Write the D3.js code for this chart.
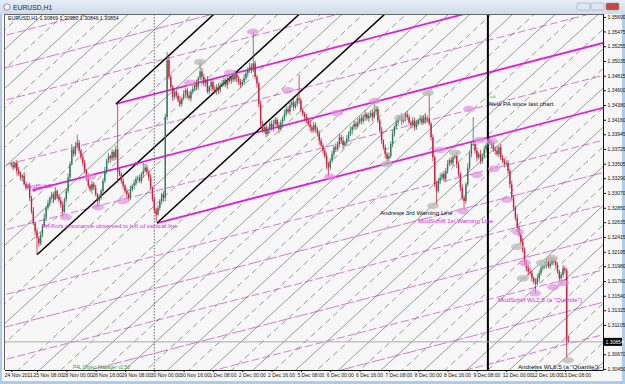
<!DOCTYPE html>
<html>
<head>
<meta charset="utf-8">
<script src="https://cdn.jsdelivr.net/npm/d3@7"></script>
<style>
  body { margin: 0; background: #fff; }
  svg { display: block; }
  text { font-family: "Liberation Sans", Arial, sans-serif; }
</style>
</head>
<body>
<div id="chart"></div>
<script>
// EURUSD H1 closes, pips above 1.3000, bar 0 = 24 Nov 18:00
const closePips = [
  349,345,352,340,336,330,333,320,315,318,
  300,280,262,250,240,232,245,258,270,285,
  292,300,305,298,310,302,296,290,280,298,
  310,330,350,372,365,378,382,370,360,352,
  340,330,318,312,320,315,305,295,300,310,
  325,340,355,362,358,368,360,372,340,335,
  325,318,310,305,300,312,318,322,328,330,
  325,335,340,345,338,330,315,298,282,275,
  285,295,305,300,420,505,480,465,450,458,
  452,445,440,448,455,460,452,448,458,462,
  470,465,478,488,480,470,475,458,465,472,
  462,458,465,460,468,470,475,468,478,474,
  480,476,484,478,472,468,472,478,485,490,
  495,490,500,480,470,440,410,400,405,395,
  402,410,404,410,416,408,402,412,418,425,
  432,428,438,442,435,440,448,445,430,425,
  420,415,410,405,400,408,402,395,385,378,
  370,362,350,345,355,365,375,372,380,390,
  385,378,382,388,395,400,405,410,406,412,
  418,414,420,424,418,422,426,420,428,432,
  415,400,385,375,365,358,362,380,395,405,
  412,418,420,414,418,424,420,412,408,415,
  405,410,415,418,412,420,416,418,410,390,
  360,320,310,325,330,335,328,340,350,356,
  352,360,362,350,335,315,300,295,320,345,
  365,380,380,370,360,365,355,362,372,378,
  385,382,378,372,370,365,375,360,355,350,
  352,340,320,300,285,270,255,245,235,222,
  205,195,190,188,180,175,172,180,188,195,
  198,200,205,198,202,208,205,200,190,180,
  185,195,192,86.9,85.4
]
const wickHi = [
  3,5,2,4,6,3,2,5,4,3, 4,3,6,2,5,3,4,2,6,3, 5,2,4,3,6,2,3,5,4,2,
  3,6,4,8,3,5,12,4,3,5, 4,3,6,2,5,3,4,2,5,3, 4,6,3,5,2,4,3,6,69,4,
  3,5,2,4,3,6,2,5,4,3, 5,3,12,6,4,3,5,2,4,3, 4,3,2,5,5,12,6,4,3,5,
  3,4,6,2,5,3,4,6,3,5, 4,6,3,15,5,4,3,6,2,4, 3,5,4,6,3,5,4,3,6,4,
  5,3,6,4,3,5,4,6,5,4, 6,5,47,4,3,2,5,4,3,5, 4,3,5,6,4,3,5,4,3,6,
  5,4,6,3,5,4,6,35,3,4, 3,5,4,6,3,5,4,3,5,4, 3,4,5,3,4,5,3,6,4,5,
  4,6,3,5,4,6,3,5,4,6, 3,5,4,6,3,5,4,6,15,5, 4,3,5,2,4,3,5,4,6,3,
  5,4,3,6,4,3,5,4,3,5, 4,6,3,5,4,3,5,4,38,3, 4,3,5,4,6,3,5,4,6,3,
  5,4,3,6,4,3,5,4,3,6, 5,4,40,4,5,3,6,4,5,3, 4,6,3,5,4,6,3,5,4,3,
  5,4,3,5,4,3,6,4,3,5, 4,3,5,6,4,3,5,6,4,5, 3,5,4,6,10,4,3,5,4,3,
  4,5,3,3,8.1
]
const wickLo = [
  3,4,2,5,3,4,6,2,4,3, 5,4,3,6,25,5,3,4,2,5, 3,5,4,6,2,4,3,5,9,3,
  4,3,5,2,4,3,5,4,3,5, 3,5,4,3,6,4,3,9,4,3, 4,3,5,4,6,3,5,4,18,3,
  4,5,3,6,5,4,3,5,4,3, 3,4,5,3,4,5,3,4,5,11, 3,4,5,6,6,5,4,3,6,4,
  4,3,5,4,3,6,4,3,5,4, 3,5,4,3,6,4,5,3,4,6, 4,3,5,6,4,3,5,4,6,3,
  5,4,3,6,4,5,3,4,3,5, 4,5,3,4,6,5,4,3,4,5, 3,6,4,5,3,4,6,3,5,4,
  4,3,5,4,6,3,4,5,3,4, 5,4,3,6,4,3,5,4,6,3, 4,3,8,14,4,3,5,4,3,5,
  4,6,3,5,4,3,6,4,5,3, 3,5,4,6,3,5,4,6,3,5, 4,3,5,4,6,9,4,3,5,4,
  3,5,4,6,3,5,4,3,5,4, 5,4,3,5,4,3,6,4,3,5, 6,4,21,3,5,4,3,5,4,3,
  4,5,3,6,4,5,3,13,4,3, 4,5,3,4,6,3,5,4,3,5, 4,3,5,4,6,3,5,4,3,5,
  4,5,6,3,5,4,6,3,5,4, 5,4,6,3,5,4,14,3,5,4, 3,4,5,3,4,3,5,4,3,5,
  4,3,5,26,0.8
]
const firstOpen = 350

const firstLabel = '24 Nov 2011'
const timeLabels = ['25 Nov 08:00', '28 Nov 00:00', '28 Nov 16:00', '29 Nov 08:00', '30 Nov 00:00',
  '30 Nov 16:00', '1 Dec 08:00', '2 Dec 00:00', '2 Dec 16:00', '5 Dec 08:00', '6 Dec 00:00',
  '6 Dec 16:00', '7 Dec 08:00', '8 Dec 00:00', '8 Dec 16:00', '9 Dec 08:00', '12 Dec 00:00',
  '12 Dec 16:00', '13 Dec 08:00']
const priceTicks = [1.35690, 1.35475, 1.35255, 1.35035, 1.34815, 1.34600, 1.34380, 1.34160,
  1.33945, 1.33725, 1.33505, 1.33290, 1.33070, 1.32850, 1.32635, 1.32415, 1.32195, 1.31980,
  1.31760, 1.31540, 1.31325, 1.31105, 1.30670, 1.30450]
const lastPrice = 1.30854
const headerText = 'EURUSD,H1  1.30869 1.30950 1.30846 1.30854'

// pitchfork pivots, [bar, price]
const andrewsPivots = [[14, 1.32150], [57.1, 1.34395], [79.5, 1.32623]]
const schiffPivots = [[12.4, 1.33115], [57.1, 1.34395], [79.5, 1.32623]]
const dottedBar = 78
const solidBar = 260

// highlight ellipses, [bar, pips]
const pinkMarks = [[97.5,471],[131.8,547],[119.3,486],[150.9,460],[177.7,426],[198.4,444],
  [249.7,432],[29.8,271],[47.3,286],[60.9,295],[42.9,331],[173.8,331],[233.9,371],
  [255.7,386],[262.2,384],[263.3,343],[254,334],[246.4,280],[270.4,297],[276.4,249],
  [280.2,203],[285.7,158],[295.5,167],[301,173]]
const grayMarks = [[102.9,502],[212,419],[227.3,456],[204.9,350],[242,367],[230,288],
  [275.9,227],[289.5,203],[279.1,180],[295,210],[303.7,58]]

const notes = [
  { text: 'ModSchiff', bar: 7.5, price: 1.33144, kind: 'm' },
  { text: 'Pit-Fork resonance observed to left of vertical line', bar: 16.7, price: 1.32549, kind: 'm' },
  { text: 'Andrews 3rd Warning Line', bar: 201.1, price: 1.32743, kind: 'k' },
  { text: 'ModSchiff 1st Warning Line', bar: 221.9, price: 1.32623, kind: 'm' },
  { text: 'New PA since last chart', bar: 260.6, price: 1.34365, kind: 'k' },
  { text: 'ModSchiff WL2.5 (a "Quartile")', bar: 265.5, price: 1.31447, kind: 'm' },
  { text: 'Andrews WL6.5 (a "Quartile")', bar: 276.4, price: 1.30450, kind: 'k' }
]

const W = 625, H = 384
const plot = { left: 5, right: 603, top: 14, bottom: 370 }
const x = d3.scaleLinear().domain([-3.45, 322.8]).range([plot.left, plot.right])
const y = d3.scaleLinear().domain([1.3045, 1.3569]).range([369, 17])

const svg = d3.select('#chart').append('svg').attr('width', W).attr('height', H)
const defs = svg.append('defs')
defs.append('clipPath').attr('id', 'plotclip').append('rect')
  .attr('x', plot.left).attr('y', plot.top)
  .attr('width', plot.right - plot.left).attr('height', plot.bottom - plot.top)
const g1 = defs.append('linearGradient').attr('id', 'tbar').attr('x1', 0).attr('y1', 0).attr('x2', 0).attr('y2', 1)
g1.append('stop').attr('offset', '0%').attr('stop-color', '#e6eef7')
g1.append('stop').attr('offset', '100%').attr('stop-color', '#cfdcec')

// window frame
svg.append('rect').attr('width', W).attr('height', H).attr('fill', '#aecbea')
svg.append('rect').attr('width', W).attr('height', 14).attr('fill', 'url(#tbar)')
svg.append('rect').attr('x', 2).attr('y', 14).attr('width', 620).attr('height', 367).attr('fill', '#f7f7f7')
svg.append('circle').attr('cx', 7).attr('cy', 7).attr('r', 3.2).attr('fill', '#f4f4f4').attr('stroke', '#6a7f99').attr('stroke-width', 0.8)
svg.append('text').attr('x', 13).attr('y', 9.5).attr('font-size', 6.8).attr('fill', '#1d2a3a').text('EURUSD,H1')
const btns = [[577, '#dfe6ef'], [591, '#dfe6ef'], [606, '#c9463d']]
btns.forEach(([bx, col]) => {
  svg.append('rect').attr('x', bx).attr('y', 3).attr('width', 13).attr('height', 7).attr('rx', 1)
    .attr('fill', col).attr('stroke', '#8a9bb0').attr('stroke-width', 0.5)
})

const clip = svg.append('g').attr('clip-path', 'url(#plotclip)')

// pitchfork line sets
function forkLines(piv, step, kMax) {
  const [p1, p2, p3] = piv
  const mid = [(p2[0] + p3[0]) / 2, (p2[1] + p3[1]) / 2]
  const slope = (mid[1] - p1[1]) / (mid[0] - p1[0])
  const unit = p2[1] - (p1[1] + slope * (p2[0] - p1[0]))
  const edge = 1 / step
  const out = []
  for (let k = -kMax; k <= kMax; k++) {
    let start = x.domain()[0] - 400
    if (k === 0) start = p1[0]
    if (k === edge) start = p2[0]
    if (k === -edge) start = p3[0]
    const end = x.domain()[1] + 400
    const at = b => p1[1] + slope * (b - p1[0]) + k * step * unit
    out.push({ k, thick: k === 0 || Math.abs(k) === edge, pts: [[start, at(start)], [end, at(end)]] })
  }
  return out
}
const line = d3.line().x(d => x(d[0])).y(d => y(d[1]))

const schiff = forkLines(schiffPivots, 0.5, 24)
clip.append('g').selectAll('path').data(schiff.filter(d => !d.thick)).join('path')
  .attr('d', d => line(d.pts)).attr('fill', 'none')
  .attr('stroke', '#d46ad4').attr('stroke-width', 0.9)
  .attr('stroke-dasharray', d => d.k % 2 ? '8,3' : '14,2')

const andrews = forkLines(andrewsPivots, 0.25, 60)
clip.append('g').selectAll('path').data(andrews.filter(d => !d.thick)).join('path')
  .attr('d', d => line(d.pts)).attr('fill', 'none')
  .attr('stroke', '#4a4a4a').attr('stroke-width', 0.55)
  .attr('stroke-dasharray', d => d.k % 2 ? '6,4' : null)

clip.append('g').selectAll('path').data(schiff.filter(d => d.thick)).join('path')
  .attr('d', d => line(d.pts)).attr('fill', 'none')
  .attr('stroke', '#e01ee0').attr('stroke-width', 1.8)
clip.append('g').selectAll('path').data(andrews.filter(d => d.thick)).join('path')
  .attr('d', d => line(d.pts)).attr('fill', 'none')
  .attr('stroke', '#000').attr('stroke-width', 1.5)

// vertical markers
clip.append('line').attr('x1', x(dottedBar)).attr('x2', x(dottedBar))
  .attr('y1', plot.top).attr('y2', plot.bottom)
  .attr('stroke', '#444').attr('stroke-width', 0.8).attr('stroke-dasharray', '1.5,1.5')
clip.append('line').attr('x1', x(solidBar)).attr('x2', x(solidBar))
  .attr('y1', plot.top).attr('y2', plot.bottom)
  .attr('stroke', '#000').attr('stroke-width', 2)

// last price line
clip.append('line').attr('x1', plot.left).attr('x2', plot.right)
  .attr('y1', y(lastPrice)).attr('y2', y(lastPrice))
  .attr('stroke', '#a8a8a8').attr('stroke-width', 1)

// candles
const bars = closePips.map((c, i) => {
  const o = i ? closePips[i - 1] : firstOpen
  return {
    i, up: c >= o,
    o: 1.3 + o / 1e4, c: 1.3 + c / 1e4,
    h: 1.3 + (Math.max(o, c) + wickHi[i]) / 1e4,
    l: 1.3 + (Math.min(o, c) - wickLo[i]) / 1e4
  }
})
const bull = '#2f7d5c', bear = '#cf1f3f'
const cg = clip.append('g')
cg.selectAll('line').data(bars).join('line')
  .attr('x1', d => x(d.i)).attr('x2', d => x(d.i))
  .attr('y1', d => y(d.h)).attr('y2', d => y(d.l))
  .attr('stroke', d => d.up ? bull : bear).attr('stroke-width', 0.8)
cg.selectAll('rect').data(bars).join('rect')
  .attr('x', d => x(d.i) - 0.7).attr('width', 1.4)
  .attr('y', d => y(Math.max(d.o, d.c)))
  .attr('height', d => Math.max(0.8, Math.abs(y(d.o) - y(d.c))))
  .attr('fill', d => d.up ? bull : bear)

// highlight ellipses
clip.append('g').selectAll('ellipse').data(grayMarks).join('ellipse')
  .attr('cx', d => x(d[0])).attr('cy', d => y(1.3 + d[1] / 1e4))
  .attr('rx', 6).attr('ry', 3.3).attr('fill', '#b8b8b8').attr('fill-opacity', 0.75)
clip.append('g').selectAll('ellipse').data(pinkMarks).join('ellipse')
  .attr('cx', d => x(d[0])).attr('cy', d => y(1.3 + d[1] / 1e4))
  .attr('rx', 6).attr('ry', 3.3).attr('fill', '#e08ae0').attr('fill-opacity', 0.65)

// pitchfork anchor markers
const mid = [(schiffPivots[1][0] + schiffPivots[2][0]) / 2, (schiffPivots[1][1] + schiffPivots[2][1]) / 2]
clip.append('g').selectAll('rect').data([schiffPivots[0], mid]).join('rect')
  .attr('x', d => x(d[0]) - 1.5).attr('y', d => y(d[1]) - 1.5)
  .attr('width', 3).attr('height', 3).attr('fill', '#e01ee0')

// annotations
clip.append('g').selectAll('text').data(notes).join('text')
  .attr('x', d => x(d.bar)).attr('y', d => y(d.price))
  .attr('font-size', 6.2)
  .attr('fill', d => d.kind === 'm' ? '#e01ee0' : '#111')
  .text(d => d.text)
const na = notes[4]
clip.append('text').attr('x', x(na.bar) + 1).attr('y', y(na.price) - 7)
  .attr('font-size', 6.5).attr('fill', '#3a9a3a').text('⇨')
svg.append('text').attr('x', 73).attr('y', 369).attr('font-size', 4.8)
  .attr('fill', '#3c9a3c').text('P4L Object Manager v2.50')
svg.append('text').attr('x', 8).attr('y', 20).attr('font-size', 5.2)
  .attr('fill', '#111').text(headerText)

// frame lines
svg.append('line').attr('x1', 4.5).attr('x2', 4.5).attr('y1', plot.top).attr('y2', plot.bottom).attr('stroke', '#666').attr('stroke-width', 1)
svg.append('line').attr('x1', 4).attr('x2', plot.right).attr('y1', 14.5).attr('y2', 14.5).attr('stroke', '#666').attr('stroke-width', 1)

// price axis
const ya = svg.append('g').attr('transform', `translate(${plot.right},0)`)
  .call(d3.axisRight(y).tickValues(priceTicks).tickFormat(d3.format('.5f')).tickSize(3).tickPadding(1.5))
ya.select('.domain').remove()
ya.selectAll('text').attr('font-size', 5).attr('fill', '#111').style('font-family', '"Liberation Sans", Arial, sans-serif')
ya.selectAll('line').attr('stroke', '#111')
svg.append('line').attr('x1', plot.right + 0.5).attr('x2', plot.right + 0.5)
  .attr('y1', plot.top).attr('y2', plot.bottom).attr('stroke', '#111')
svg.append('rect').attr('x', plot.right + 1).attr('y', y(lastPrice) - 4).attr('width', 18).attr('height', 8).attr('fill', '#000')
svg.append('text').attr('x', plot.right + 2.5).attr('y', y(lastPrice) + 1.8)
  .attr('font-size', 5).attr('fill', '#fff').text(lastPrice.toFixed(5))

// time axis
const tickBars = [0].concat(timeLabels.map((t, k) => 14 + 16 * k))
const tickText = [firstLabel].concat(timeLabels)
const xa = svg.append('g').attr('transform', `translate(0,${plot.bottom})`)
  .call(d3.axisBottom(x).tickValues(tickBars).tickFormat((d, i) => tickText[i]).tickSize(2))
xa.select('.domain').remove()
xa.selectAll('text').attr('font-size', 5).attr('fill', '#111').attr('text-anchor', 'start')
  .attr('x', (d, i) => i ? -4 : -7).attr('y', 3.5)
  .style('font-family', '"Liberation Sans", Arial, sans-serif')
xa.selectAll('line').attr('stroke', '#111')
svg.append('line').attr('x1', plot.left).attr('x2', plot.right + 0.5)
  .attr('y1', plot.bottom + 0.5).attr('y2', plot.bottom + 0.5).attr('stroke', '#111')
</script>
</body>
</html>
